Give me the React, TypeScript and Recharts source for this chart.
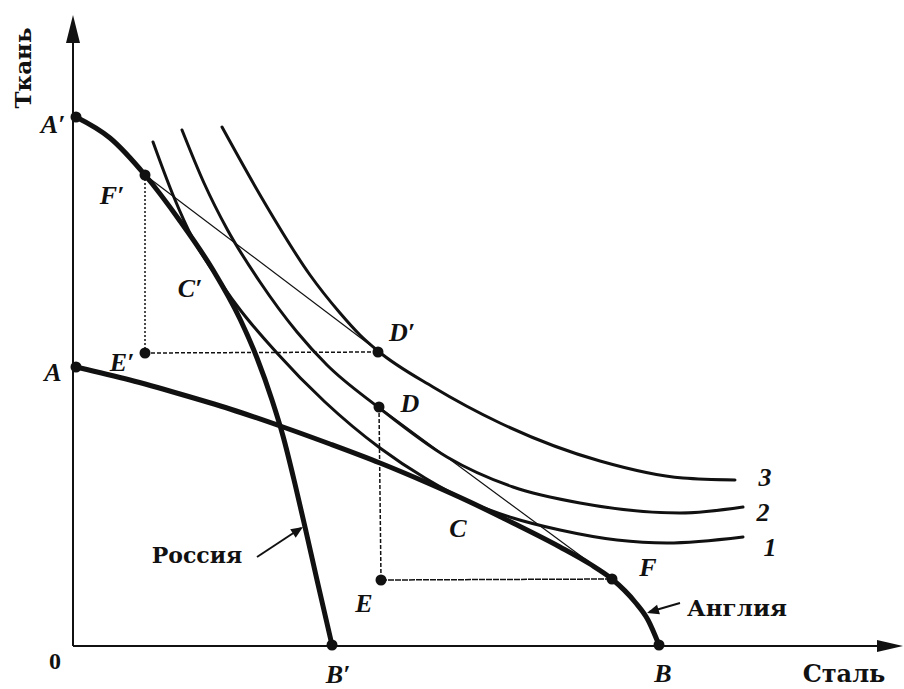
import { ComposedChart, Line, XAxis, YAxis, ReferenceDot } from "recharts";

// all values in plot units, origin at the axes' corner
const russiaPpf = [
  { x: 3, y: 529 }, { x: 37, y: 508 }, { x: 72, y: 471 }, { x: 107, y: 425 },
  { x: 140, y: 376 }, { x: 167, y: 327 }, { x: 184, y: 288 }, { x: 199, y: 246 },
  { x: 210, y: 210 }, { x: 222, y: 162 }, { x: 232, y: 119 }, { x: 244, y: 66 },
  { x: 259, y: 1 },
];

const englandPpf = [
  { x: 3, y: 279 }, { x: 57, y: 266 }, { x: 107, y: 252 }, { x: 157, y: 237 },
  { x: 210, y: 219 }, { x: 257, y: 202 }, { x: 307, y: 183 }, { x: 357, y: 162 },
  { x: 397, y: 144 }, { x: 440, y: 123 }, { x: 487, y: 99 }, { x: 517, y: 82 },
  { x: 539, y: 67 }, { x: 562, y: 44 }, { x: 575, y: 26 }, { x: 586, y: 1 },
];

const indiff1 = [
  { x: 80, y: 504 }, { x: 100, y: 451 }, { x: 120, y: 407 }, { x: 140, y: 375 },
  { x: 165, y: 339 }, { x: 203, y: 294 }, { x: 252, y: 244 }, { x: 307, y: 198 },
  { x: 352, y: 168 }, { x: 397, y: 144 }, { x: 440, y: 128 }, { x: 487, y: 116 },
  { x: 544, y: 106 }, { x: 594, y: 103 }, { x: 670, y: 109 },
];

const indiff2 = [
  { x: 109, y: 516 }, { x: 131, y: 463 }, { x: 154, y: 417 }, { x: 187, y: 364 },
  { x: 224, y: 314 }, { x: 254, y: 281 }, { x: 305, y: 239 }, { x: 374, y: 189 },
  { x: 440, y: 159 }, { x: 507, y: 143 }, { x: 607, y: 133 }, { x: 670, y: 139 },
];

const indiff3 = [
  { x: 149, y: 519 }, { x: 190, y: 446 }, { x: 237, y: 371 }, { x: 267, y: 333 },
  { x: 287, y: 311 }, { x: 305, y: 295 }, { x: 360, y: 259 }, { x: 427, y: 223 },
  { x: 527, y: 185 }, { x: 610, y: 168 }, { x: 662, y: 166 },
];

const tradeRussia = [{ x: 72, y: 471 }, { x: 305, y: 295 }];
const tradeEngland = [{ x: 306, y: 239 }, { x: 539, y: 67 }];

const russiaExport = [{ x: 72, y: 471 }, { x: 72, y: 293 }];
const russiaImport = [{ x: 72, y: 293 }, { x: 305, y: 294 }];
const englandImport = [{ x: 306, y: 239 }, { x: 308, y: 66 }];
const englandExport = [{ x: 308, y: 66 }, { x: 539, y: 67 }];

const xAxisLine = [{ x: 0, y: 0 }, { x: 815, y: 0 }];
const yAxisLine = [{ x: 0, y: 0 }, { x: 0, y: 610 }];

const russiaPointer = [{ x: 184, y: 89 }, { x: 228, y: 118 }];
const englandPointer = [{ x: 607, y: 43 }, { x: 576, y: 34 }];

const keyPoints = [
  { x: 3, y: 529 }, { x: 3, y: 279 }, { x: 72, y: 471 }, { x: 72, y: 293 },
  { x: 305, y: 294 }, { x: 306, y: 239 }, { x: 308, y: 66 }, { x: 539, y: 67 },
  { x: 259, y: 1 }, { x: 586, y: 1 },
];

const letterLabels = [
  { x: -20, y: 522, text: "A′" }, { x: -20, y: 274, text: "A" },
  { x: 39, y: 451, text: "F′" }, { x: 117, y: 358, text: "C′" },
  { x: 49, y: 284, text: "E′" }, { x: 329, y: 314, text: "D′" },
  { x: 337, y: 243, text: "D" }, { x: 385, y: 118, text: "C" },
  { x: 291, y: 43, text: "E" }, { x: 575, y: 79, text: "F" },
  { x: 265, y: -28, text: "B′" }, { x: 590, y: -27, text: "B" },
  { x: 692, y: 169, text: "3" }, { x: 690, y: 134, text: "2" },
  { x: 697, y: 99, text: "1" },
];

const wordLabels = [
  { x: 124, y: 91, text: "Россия", size: 22 },
  { x: 664, y: 39, text: "Англия", size: 23 },
  { x: 771, y: -27, text: "Сталь", size: 24 },
];

const arrowHead = (dx: number, dy: number, len: number, half: number) => (p: any) => {
  const a = Math.atan2(dy, dx);
  const bx = p.cx - len * Math.cos(a);
  const by = p.cy - len * Math.sin(a);
  const ox = -Math.sin(a) * half;
  const oy = Math.cos(a) * half;
  return (
    <polygon
      points={`${p.cx},${p.cy} ${bx + ox},${by + oy} ${bx - ox},${by - oy}`}
      fill="#111"
    />
  );
};

const textShape = (text: string, style: any) => (p: any) => (
  <text
    x={p.cx}
    y={p.cy}
    textAnchor="middle"
    dominantBaseline="central"
    fill="#111"
    style={style}
  >
    {text}
  </text>
);

const italicStyle = {
  fontFamily: "'Liberation Serif', serif",
  fontStyle: "italic",
  fontWeight: 700,
  fontSize: 26,
};

const wordStyle = {
  fontFamily: "'DejaVu Serif', serif",
  fontWeight: 700,
  fontSize: 22,
};

function seg(data: { x: number; y: number }[], width: number, dash?: string) {
  return (
    <Line
      data={data}
      dataKey="y"
      type="linear"
      stroke="#111"
      strokeWidth={width}
      strokeDasharray={dash}
      dot={false}
      activeDot={false}
      isAnimationActive={false}
    />
  );
}

function curve(data: { x: number; y: number }[], width: number) {
  return (
    <Line
      data={data}
      dataKey="y"
      type="monotone"
      stroke="#111"
      strokeWidth={width}
      strokeLinecap="round"
      dot={false}
      activeDot={false}
      isAnimationActive={false}
    />
  );
}

export default function App() {
  return (
    <div style={{ position: "absolute", left: 0, top: 0, background: "#fff" }}>
      <ComposedChart
        width={904}
        height={689}
        margin={{ top: 15, right: 1, bottom: 43, left: 73 }}
      >
        <XAxis type="number" dataKey="x" domain={[0, 830]} hide />
        <YAxis type="number" domain={[0, 631]} hide />

        {seg(xAxisLine, 2)}
        {seg(yAxisLine, 2)}

        {seg(russiaExport, 1.5, "2 2")}
        {seg(russiaImport, 1.5, "4 2")}
        {seg(englandImport, 1.5, "4 2")}
        {seg(englandExport, 1.5, "6 1")}

        {seg(tradeRussia, 1.2)}
        {seg(tradeEngland, 1.2)}

        {curve(indiff1, 3)}
        {curve(indiff2, 3)}
        {curve(indiff3, 3)}

        {curve(russiaPpf, 5)}
        {curve(englandPpf, 5)}

        {seg(russiaPointer, 2)}
        {seg(englandPointer, 2)}

        <ReferenceDot x={830} y={0} r={1} ifOverflow="visible" shape={arrowHead(1, 0, 26, 6)} />
        <ReferenceDot x={0} y={631} r={1} ifOverflow="visible" shape={arrowHead(0, -1, 28, 7)} />
        <ReferenceDot x={230} y={119} r={1} ifOverflow="visible" shape={arrowHead(46, -30, 12, 5)} />
        <ReferenceDot x={574} y={33} r={1} ifOverflow="visible" shape={arrowHead(-33, 10, 12, 5)} />

        {keyPoints.map((p, i) => (
          <ReferenceDot
            key={`kp${i}`}
            x={p.x}
            y={p.y}
            r={5.5}
            fill="#111"
            stroke="none"
            ifOverflow="visible"
          />
        ))}

        {letterLabels.map((l, i) => (
          <ReferenceDot
            key={`ll${i}`}
            x={l.x}
            y={l.y}
            r={1}
            ifOverflow="visible"
            shape={textShape(l.text, italicStyle)}
          />
        ))}

        {wordLabels.map((l, i) => (
          <ReferenceDot
            key={`wl${i}`}
            x={l.x}
            y={l.y}
            r={1}
            ifOverflow="visible"
            shape={textShape(l.text, { ...wordStyle, fontSize: l.size })}
          />
        ))}

        <ReferenceDot
          x={-18}
          y={-15}
          r={1}
          ifOverflow="visible"
          shape={textShape("0", { ...wordStyle, fontFamily: "'Liberation Serif', serif", fontSize: 24 })}
        />
        <ReferenceDot
          x={-51}
          y={578}
          r={1}
          ifOverflow="visible"
          shape={(p: any) => (
            <text
              x={p.cx}
              y={p.cy}
              textAnchor="middle"
              dominantBaseline="central"
              fill="#111"
              transform={`rotate(-90 ${p.cx} ${p.cy})`}
              style={{ ...wordStyle, fontSize: 23 }}
            >
              Ткань
            </text>
          )}
        />
      </ComposedChart>
    </div>
  );
}
